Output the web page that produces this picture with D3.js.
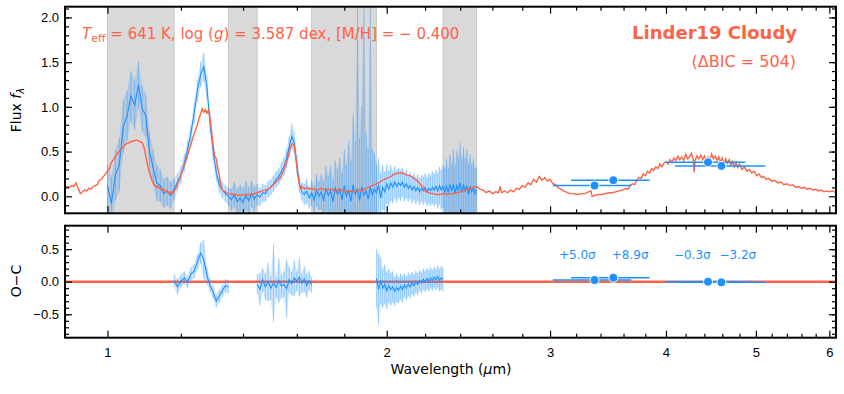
<!DOCTYPE html>
<html>
<head>
<meta charset="utf-8">
<script src="https://cdn.jsdelivr.net/npm/d3@7"></script>
<style>
body { margin: 0; background: #fff; }
svg { font-family: "DejaVu Sans", sans-serif; }
</style>
</head>
<body>
<svg id="chart" width="844" height="394"></svg>
<script>
// model spectrum (micron, flux)
const modelWave = [0.90,0.905,0.91,0.915,0.92,0.925,0.93,0.935,0.94,0.945,0.95,0.955,0.96,0.965,0.97,0.975,0.98,0.985,0.99,0.995,
  1.00,1.005,1.01,1.015,1.02,1.025,1.03,1.035,1.04,1.045,1.05,1.055,1.06,1.065,1.07,1.075,1.08,1.085,1.09,1.095,
  1.10,1.105,1.11,1.115,1.12,1.125,1.13,1.135,1.14,1.145,1.15,1.155,1.16,1.165,1.17,1.175,1.18,1.185,1.19,1.195,
  1.20,1.21,1.22,1.23,1.24,1.25,1.255,1.26,1.265,1.27,1.275,1.28,1.285,1.29,1.295,1.30,1.305,1.31,1.315,1.32,1.325,1.33,1.34,1.35,
  1.37,1.39,1.41,1.43,1.45,1.47,1.49,1.51,1.52,1.53,1.54,1.55,1.56,1.57,1.575,1.58,1.585,1.59,1.595,1.60,1.605,1.61,1.615,1.62,
  1.63,1.64,1.65,1.66,1.68,1.70,1.72,1.74,1.76,1.78,1.80,1.82,1.84,1.86,1.88,1.90,1.92,1.94,1.96,1.98,
  2.00,2.02,2.04,2.06,2.08,2.10,2.12,2.14,2.16,2.18,2.20,2.22,2.24,2.26,2.28,2.30,2.32,2.34,2.36,2.38,
  2.40,2.42,2.44,2.46,2.48,2.50,2.52,2.54,2.56,2.58,2.60,2.62,2.64,2.65,2.66,2.68,2.70,2.72,2.74,2.76,
  2.78,2.80,2.82,2.84,2.86,2.88,2.90,2.92,2.94,2.96,2.98,3.00,3.02,3.04,3.06,3.08,3.10,3.12,3.15,3.18,
  3.21,3.24,3.27,3.30,3.32,3.33,3.35,3.38,3.41,3.44,3.47,3.50,3.53,3.56,3.59,3.62,3.64,3.66,3.68,3.70,
  3.72,3.74,3.76,3.78,3.80,3.82,3.84,3.86,3.88,3.90,3.92,3.94,3.96,3.98,4.00,4.02,4.04,4.06,4.08,4.10,
  4.12,4.14,4.16,4.18,4.20,4.22,4.24,4.26,4.28,4.29,4.30,4.32,4.34,4.36,4.38,4.40,4.42,4.44,4.46,4.48,
  4.50,4.52,4.54,4.56,4.58,4.60,4.62,4.64,4.66,4.68,4.70,4.72,4.74,4.76,4.78,4.80,4.83,4.86,4.89,4.92,
  4.95,4.98,5.01,5.04,5.07,5.10,5.13,5.16,5.20,5.24,5.28,5.32,5.36,5.40,5.44,5.48,5.52,5.56,5.60,5.64,
  5.68,5.72,5.76,5.80,5.84,5.88,5.92,5.96,6.00,6.05,6.10];
const modelFlux = [0.10,0.11,0.10,0.12,0.11,0.15,0.09,0.03,0.05,0.07,0.06,0.09,0.08,0.11,0.12,0.13,0.18,0.19,0.22,0.25,
  0.28,0.31,0.38,0.41,0.45,0.48,0.50,0.53,0.55,0.58,0.59,0.60,0.61,0.62,0.62,0.63,0.62,0.61,0.60,0.55,
  0.45,0.34,0.26,0.20,0.15,0.12,0.10,0.11,0.08,0.07,0.08,0.05,0.06,0.03,0.05,0.03,0.06,0.09,0.14,0.18,
  0.24,0.34,0.46,0.58,0.70,0.80,0.87,0.92,0.98,0.94,0.97,0.93,0.96,0.88,0.72,0.56,0.45,0.42,0.32,0.24,0.12,0.07,0.05,0.03,
  0.02,0.01,0.02,0.02,0.04,0.06,0.08,0.13,0.16,0.19,0.23,0.30,0.38,0.49,0.55,0.58,0.59,0.56,0.45,0.34,0.22,0.14,0.09,0.11,
  0.08,0.10,0.08,0.09,0.07,0.09,0.07,0.08,0.06,0.08,0.05,0.06,0.05,0.07,0.06,0.09,0.11,0.13,0.15,0.18,
  0.20,0.22,0.25,0.26,0.26,0.24,0.23,0.20,0.17,0.12,0.06,0.04,0.03,0.02,0.02,0.03,0.02,0.03,0.03,0.04,
  0.05,0.06,0.08,0.09,0.10,0.11,0.08,0.07,0.04,0.06,0.03,0.05,0.04,0.11,0.04,0.06,0.04,0.07,0.05,0.09,
  0.08,0.12,0.10,0.15,0.13,0.19,0.16,0.22,0.18,0.21,0.17,0.19,0.14,0.13,0.10,0.08,0.06,0.05,0.03,0.03,
  0.02,0.03,0.03,0.05,0.06,0.00,0.01,0.02,0.02,0.03,0.04,0.04,0.05,0.06,0.07,0.09,0.08,0.12,0.14,0.13,
  0.18,0.21,0.20,0.25,0.23,0.28,0.26,0.31,0.29,0.33,0.31,0.36,0.33,0.37,0.39,0.36,0.41,0.38,0.43,0.40,
  0.45,0.41,0.44,0.40,0.47,0.42,0.44,0.48,0.41,0.27,0.40,0.45,0.42,0.46,0.41,0.45,0.39,0.44,0.40,0.47,
  0.42,0.45,0.40,0.44,0.38,0.43,0.36,0.42,0.37,0.41,0.35,0.39,0.33,0.38,0.32,0.36,0.30,0.33,0.28,0.30,
  0.26,0.28,0.23,0.25,0.21,0.22,0.19,0.20,0.17,0.18,0.15,0.16,0.13,0.14,0.12,0.13,0.10,0.11,0.09,0.10,
  0.08,0.09,0.07,0.08,0.06,0.07,0.05,0.06,0.05,0.06,0.04];

// observed spectrum
const obsWave = [1.00,1.01,1.02,1.03,1.04,1.05,1.06,1.07,1.08,1.09,1.10,1.11,1.12,1.13,1.14,1.15,1.16,1.17,1.18,1.19,
  1.20,1.21,1.22,1.23,1.24,1.25,1.26,1.27,1.28,1.29,1.30,1.31,1.32,1.33,1.34,1.35,1.36,1.37,1.38,1.39,
  1.40,1.41,1.42,1.43,1.44,1.45,1.46,1.47,1.48,1.49,1.50,1.51,1.52,1.53,1.54,1.55,1.56,1.57,1.58,1.59,
  1.60,1.61,1.62,1.63,1.64,1.65,1.66,1.67,1.68,1.69,1.70,1.71,1.72,1.73,1.74,1.75,1.76,1.77,1.78,1.79,
  1.80,1.81,1.82,1.83,1.84,1.85,1.86,1.87,1.88,1.89,1.90,1.91,1.92,1.93,1.94,1.95,1.96,1.97,1.98,1.99,
  2.00,2.01,2.02,2.03,2.04,2.05,2.06,2.07,2.08,2.09,2.10,2.11,2.12,2.13,2.14,2.15,2.16,2.17,2.18,2.19,
  2.20,2.21,2.22,2.23,2.24,2.25,2.26,2.27,2.28,2.29,2.30,2.31,2.32,2.33,2.34,2.35,2.36,2.37,2.38,2.39,
  2.40,2.41,2.42,2.43,2.44,2.45,2.46,2.47,2.48,2.49,2.50];
const obsFlux = [0.12,-0.08,0.24,0.36,0.78,0.90,1.12,1.02,1.25,0.98,0.90,0.50,0.32,0.15,0.12,0.03,0.06,0.01,0.08,0.16,
  0.24,0.37,0.52,0.70,0.93,1.18,1.36,1.45,1.22,0.82,0.50,0.27,0.13,0.07,0.03,0.00,-0.04,0.02,-0.06,-0.02,
  -0.07,0.01,-0.05,0.03,-0.03,0.02,-0.01,0.04,0.03,0.08,0.10,0.14,0.19,0.22,0.28,0.33,0.43,0.55,0.67,0.60,
  0.36,0.14,0.05,0.02,0.06,-0.02,0.04,-0.04,0.07,0.00,0.05,-0.05,0.09,0.01,0.06,-0.06,0.10,0.02,0.08,-0.04,
  0.12,0.00,0.07,-0.06,0.13,0.02,0.09,-0.05,0.11,0.01,0.06,-0.03,0.10,0.02,0.08,0.04,0.13,-0.02,0.10,0.05,
  0.14,0.08,0.15,0.10,0.16,0.11,0.15,0.12,0.16,0.10,0.14,0.09,0.12,0.07,0.11,0.06,0.10,0.05,0.09,0.06,
  0.10,0.05,0.09,0.06,0.10,0.07,0.11,0.06,0.12,0.07,0.11,0.05,0.12,0.04,0.13,0.06,0.14,0.03,0.12,0.07,
  0.15,0.04,0.13,0.06,0.12,0.02,0.11,0.05,0.10,0.03,0.08];
const obsErr = [0.25,0.30,0.28,0.30,0.30,0.28,0.28,0.28,0.26,0.26,0.24,0.22,0.20,0.20,0.18,0.16,0.16,0.15,0.12,0.10,
  0.10,0.10,0.10,0.10,0.12,0.13,0.14,0.16,0.14,0.12,0.10,0.10,0.09,0.09,0.09,0.10,0.12,0.14,0.14,0.15,
  0.16,0.16,0.15,0.15,0.14,0.12,0.10,0.10,0.09,0.09,0.09,0.09,0.09,0.09,0.10,0.10,0.11,0.12,0.14,0.12,
  0.11,0.10,0.10,0.12,0.14,0.12,0.14,0.16,0.18,0.16,0.20,0.22,0.25,0.22,0.28,0.25,0.30,0.28,0.35,0.30,
  0.40,0.35,0.55,0.45,0.80,0.60,2.20,0.70,0.90,2.20,0.65,0.55,2.10,0.50,0.40,0.30,0.30,0.28,0.25,0.22,
  0.22,0.20,0.20,0.18,0.18,0.18,0.17,0.17,0.16,0.16,0.16,0.15,0.15,0.15,0.15,0.15,0.15,0.15,0.15,0.16,
  0.16,0.16,0.17,0.17,0.18,0.18,0.19,0.20,0.21,0.22,0.24,0.26,0.30,0.28,0.34,0.30,0.38,0.32,0.40,0.36,
  0.45,0.38,0.42,0.36,0.40,0.34,0.36,0.30,0.32,0.28,0.25];

// residuals (null = gap between fitted windows)
const residWave = [1.18,1.19,1.20,1.21,1.22,1.23,1.24,1.25,1.26,1.27,1.28,1.29,1.30,1.31,1.32,1.33,1.34,1.35,
  1.40,
  1.45,1.46,1.47,1.48,1.49,1.50,1.51,1.52,1.53,1.54,1.55,1.56,1.57,1.58,1.59,1.60,1.61,1.62,1.63,1.64,1.65,1.66,
  1.80,
  1.95,1.96,1.97,1.98,1.99,2.00,2.01,2.02,2.03,2.04,2.05,2.06,2.07,2.08,2.09,2.10,2.11,2.12,2.13,2.14,
  2.15,2.16,2.17,2.18,2.19,2.20,2.21,2.22,2.23,2.24,2.25,2.26,2.27,2.28,2.29,2.30];
const residVal = [0.02,-0.08,0.01,0.06,-0.01,0.12,0.16,0.30,0.44,0.34,0.10,-0.06,-0.16,-0.30,-0.22,-0.14,-0.06,-0.08,
  null,
  -0.04,-0.12,0.03,-0.08,0.00,-0.10,-0.02,-0.09,0.02,-0.07,-0.04,-0.11,0.03,-0.03,0.06,0.01,0.07,-0.02,0.04,-0.06,0.02,-0.05,
  null,
  0.05,-0.12,0.02,-0.10,-0.04,-0.14,-0.06,-0.12,-0.08,-0.15,-0.09,-0.13,-0.07,-0.12,-0.05,-0.10,-0.04,-0.08,-0.02,-0.06,
  0.00,-0.04,0.02,-0.02,0.04,0.00,0.05,0.01,0.06,0.02,0.07,0.03,0.08,0.02,0.06,0.03];
const residErr = [0.10,0.12,0.10,0.10,0.09,0.10,0.11,0.12,0.16,0.30,0.14,0.10,0.10,0.10,0.10,0.09,0.10,0.10,
  null,
  0.15,0.25,0.18,0.20,0.30,0.18,0.60,0.15,0.35,0.18,0.20,0.45,0.20,0.18,0.28,0.15,0.30,0.15,0.20,0.18,0.15,0.12,
  null,
  0.45,0.55,0.35,0.30,0.30,0.28,0.26,0.25,0.24,0.22,0.22,0.20,0.20,0.20,0.18,0.18,0.18,0.18,0.17,0.17,
  0.17,0.17,0.16,0.16,0.16,0.16,0.16,0.16,0.16,0.16,0.16,0.16,0.17,0.17,0.18,0.18];

// photometry
const photWave = [3.35, 3.51, 4.44, 4.59];
const photFlux = [0.12, 0.18, 0.38, 0.34];
const photLo = [3.02, 3.16, 4.00, 4.09];
const photHi = [3.67, 3.84, 4.87, 5.12];
const photResid = [0.025, 0.06, 0.0, -0.01];
const sigmaText = ["+5.0σ", "+8.9σ", "−0.3σ", "−3.2σ"];
const sigmaWave = [3.21, 3.66, 4.27, 4.78];

// excluded windows
const bandLo = [1.00, 1.35, 1.66, 2.30];
const bandHi = [1.18, 1.45, 1.95, 2.50];

const red = "#ff6347", blue = "#1e90ff";
const svg = d3.select("#chart");
const L = 65, R = 836;
const x = d3.scaleLog().domain([0.9, 6.1]).range([L, R]);
const yTop = d3.scaleLinear().domain([-0.19, 2.12]).range([213.3, 6.7]);
const yBot = d3.scaleLinear().domain([-0.86, 0.86]).range([337.7, 225.7]);

const xMajor = [1, 2, 3, 4, 5, 6];
const xMinor = d3.range(12, 60, 2).map(v => v / 10).filter(v => v % 1 !== 0);

function clip(id, y) {
  svg.append("clipPath").attr("id", id).append("rect")
    .attr("x", L).attr("y", y.range()[1]).attr("width", R - L).attr("height", y.range()[0] - y.range()[1]);
}
clip("cTop", yTop);
clip("cBot", yBot);

function axes(y, yMajor, yMinor, labelX) {
  const g = svg.append("g");
  const [b, t] = y.range();
  const add = (axis, tr) => {
    const a = g.append("g").attr("transform", tr).call(axis);
    a.select(".domain").remove();
    a.selectAll("line").attr("stroke", "#000").attr("stroke-width", 1.2);
    a.selectAll("text").attr("font-size", 13).attr("fill", "#000");
    return a;
  };
  add(d3.axisBottom(x).tickValues(xMajor).tickSize(-7).tickPadding(10).tickFormat(labelX ? d3.format("d") : ""), `translate(0,${b})`);
  add(d3.axisBottom(x).tickValues(xMinor).tickSize(-4).tickFormat(""), `translate(0,${b})`);
  add(d3.axisTop(x).tickValues(xMajor).tickSize(-7).tickFormat(""), `translate(0,${t})`);
  add(d3.axisTop(x).tickValues(xMinor).tickSize(-4).tickFormat(""), `translate(0,${t})`);
  add(d3.axisLeft(y).tickValues(yMajor).tickSize(-7).tickPadding(6).tickFormat(d3.format(".1f")), `translate(${L},0)`)
    .selectAll("text").text(d => d3.format(".1f")(d).replace("-", "−"));
  add(d3.axisLeft(y).tickValues(yMinor).tickSize(-4).tickFormat(""), `translate(${L},0)`);
  add(d3.axisRight(y).tickValues(yMajor).tickSize(-7).tickFormat(""), `translate(${R},0)`);
  add(d3.axisRight(y).tickValues(yMinor).tickSize(-4).tickFormat(""), `translate(${R},0)`);
  g.append("rect").attr("x", L).attr("y", t).attr("width", R - L).attr("height", b - t)
    .attr("fill", "none").attr("stroke", "#000").attr("stroke-width", 2);
}

// ---------- top panel ----------
const obs = obsWave.map((w, i) => ({w, f: obsFlux[i], e: obsErr[i]}));
const model = modelWave.map((w, i) => ({w, f: modelFlux[i]}));
const topG = svg.append("g").attr("clip-path", "url(#cTop)");

topG.selectAll(".band").data(bandLo).enter().append("rect")
  .attr("x", d => x(d)).attr("width", (d, i) => x(bandHi[i]) - x(d))
  .attr("y", 0).attr("height", 220)
  .attr("fill", "#d9d9d9").attr("stroke", "#c2c2c2").attr("stroke-width", 0.8);

topG.append("path").datum(obs)
  .attr("d", d3.area().x(d => x(d.w)).y0(d => yTop(d.f - d.e)).y1(d => yTop(d.f + d.e)))
  .attr("fill", blue).attr("opacity", 0.22);
topG.selectAll(".eb").data(obs).enter().append("line")
  .attr("x1", d => x(d.w)).attr("x2", d => x(d.w))
  .attr("y1", d => yTop(d.f - d.e)).attr("y2", d => yTop(d.f + d.e))
  .attr("stroke", blue).attr("stroke-opacity", 0.35).attr("stroke-width", 1);
topG.append("path").datum(obs)
  .attr("d", d3.line().x(d => x(d.w)).y(d => yTop(d.f)))
  .attr("fill", "none").attr("stroke", blue).attr("stroke-width", 1.1);

topG.append("path").datum(model)
  .attr("d", d3.line().x(d => x(d.w)).y(d => yTop(d.f)))
  .attr("fill", "none").attr("stroke", red).attr("stroke-width", 1.4);

function phot(g, y, vals) {
  g.selectAll(".pb").data(photWave).enter().append("line")
    .attr("x1", (d, i) => x(photLo[i])).attr("x2", (d, i) => x(photHi[i]))
    .attr("y1", (d, i) => y(vals[i])).attr("y2", (d, i) => y(vals[i]))
    .attr("stroke", blue).attr("stroke-width", 1.5);
  g.selectAll(".pp").data(photWave).enter().append("circle")
    .attr("cx", d => x(d)).attr("cy", (d, i) => y(vals[i])).attr("r", 4.5)
    .attr("fill", blue).attr("stroke", "#fff").attr("stroke-width", 1);
}
phot(topG, yTop, photFlux);

axes(yTop, [0, 0.5, 1, 1.5, 2], d3.range(-1, 22).map(v => v / 10).filter(v => v % 5 !== 0 && v !== 0), false);

const ann = svg.append("text").attr("x", 82).attr("y", 39).attr("font-size", 15).attr("fill", red);
ann.append("tspan").attr("font-style", "italic").text("T");
ann.append("tspan").attr("font-size", 11).attr("dy", 3).text("eff");
ann.append("tspan").attr("dy", -3).text(" = 641 K, log (");
ann.append("tspan").attr("font-style", "italic").text("g");
ann.append("tspan").text(") = 3.587 dex, [M/H] = − 0.400");

svg.append("text").attr("x", 797).attr("y", 39).attr("text-anchor", "end")
  .attr("font-size", 18).attr("font-weight", "bold").attr("fill", red).text("Linder19 Cloudy");
svg.append("text").attr("x", 796).attr("y", 67).attr("text-anchor", "end")
  .attr("font-size", 16).attr("fill", red).text("(ΔBIC = 504)");

const fl = svg.append("text").attr("transform", "translate(21,110) rotate(-90)")
  .attr("text-anchor", "middle").attr("font-size", 14);
fl.append("tspan").text("Flux ");
fl.append("tspan").attr("font-style", "italic").text("f");
fl.append("tspan").attr("font-size", 10).attr("font-style", "italic").attr("dy", 3).text("λ");

// ---------- bottom panel ----------
const res = residWave.map((w, i) => ({w, f: residVal[i], e: residErr[i]}));
const botG = svg.append("g").attr("clip-path", "url(#cBot)");
botG.append("line").attr("x1", L).attr("x2", R).attr("y1", yBot(0)).attr("y2", yBot(0))
  .attr("stroke", red).attr("stroke-width", 2.5);
botG.append("path").datum(res)
  .attr("d", d3.area().defined(d => d.f !== null).x(d => x(d.w))
    .y0(d => yBot(d.f - d.e)).y1(d => yBot(d.f + d.e)))
  .attr("fill", blue).attr("opacity", 0.22);
botG.selectAll(".eb").data(res.filter(d => d.f !== null)).enter().append("line")
  .attr("x1", d => x(d.w)).attr("x2", d => x(d.w))
  .attr("y1", d => yBot(d.f - d.e)).attr("y2", d => yBot(d.f + d.e))
  .attr("stroke", blue).attr("stroke-opacity", 0.35).attr("stroke-width", 1);
botG.append("path").datum(res)
  .attr("d", d3.line().defined(d => d.f !== null).x(d => x(d.w)).y(d => yBot(d.f)))
  .attr("fill", "none").attr("stroke", blue).attr("stroke-width", 1.1);
phot(botG, yBot, photResid);

svg.selectAll(".sig").data(sigmaText).enter().append("text")
  .attr("x", (d, i) => x(sigmaWave[i])).attr("y", yBot(0.41) + 4)
  .attr("text-anchor", "middle").attr("font-size", 12).attr("fill", blue).text(d => d);

axes(yBot, [-0.5, 0, 0.5], d3.range(-8, 9).map(v => v / 10).filter(v => v % 5 !== 0 && v !== 0), true);

svg.append("text").attr("transform", "translate(21,281) rotate(-90)")
  .attr("text-anchor", "middle").attr("font-size", 14).text("O−C");

const xl = svg.append("text").attr("x", 451).attr("y", 374).attr("text-anchor", "middle").attr("font-size", 14);
xl.append("tspan").text("Wavelength (");
xl.append("tspan").attr("font-style", "italic").text("μ");
xl.append("tspan").text("m)");
</script>
</body>
</html>
